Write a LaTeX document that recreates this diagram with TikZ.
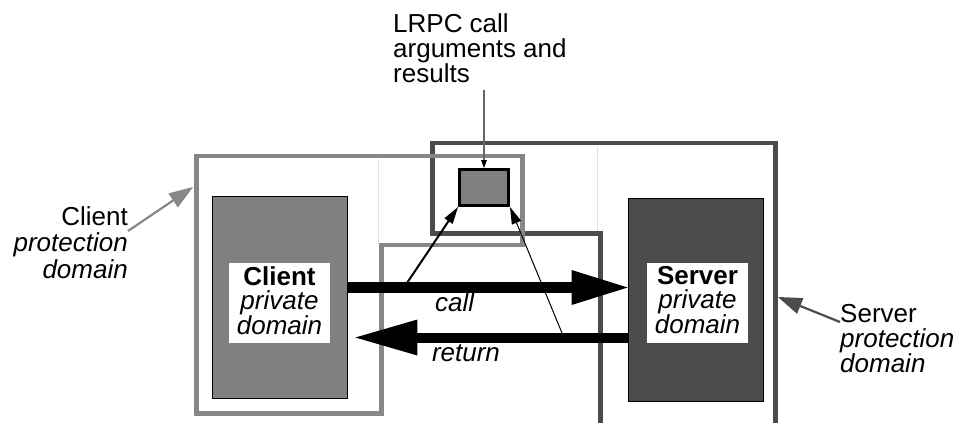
\documentclass[tikz,border=0pt]{standalone}
\usepackage{fontspec}
\setmainfont{Liberation Sans}
\usetikzlibrary{arrows.meta}

\definecolor{clientgray}{gray}{0.53}
\definecolor{servergray}{gray}{0.30}

\begin{document}
\begin{tikzpicture}[x=1pt, y=-1pt, font=\fontsize{26}{25}\selectfont,
    dombox/.style={draw=black, line width=0.8pt, minimum width=135pt, minimum height=202pt},
    domlabel/.style={fill=white, inner sep=0pt, minimum width=101pt, minimum height=80pt, align=center, font=\fontsize{26}{24.5}\selectfont},
    bigarrow/.style={line width=11pt, -{Triangle[length=56pt,width=35pt,line width=0pt]}},
    ptrarrow/.style={-{Triangle[length=17pt,width=10pt,line width=0pt]}},
    protarrow/.style={line width=2.2pt, -{Triangle[length=24pt,width=17pt,line width=0pt]}},
    faint/.style={draw=black!12, line width=0.8pt}]

  \useasboundingbox (0,0) rectangle (959,423);

  % protection domains
  \draw[servergray, line width=4.6pt] (600.5,430) -- (600.5,233.5) -- (432.5,233.5) -- (432.5,143) -- (775.5,143) -- (775.5,430);
  \draw[faint] (597.5,146) -- (597.5,231);
  \draw[clientgray, line width=4.6pt] (196.7,156) -- (522.5,156) -- (522.5,245) -- (381.5,245) -- (381.5,413.7) -- (196.7,413.7) -- cycle;
  \draw[faint] (378,159) -- (378,243);

  \node[dombox, fill=black!50] (cpriv) at (279.5,297) {};
  \node[dombox, fill=servergray, minimum height=203pt] (spriv) at (695.5,299.5) {};
  \node[domlabel] (clbl) at (279.5,303) {\textbf{Client}\\\textit{private}\\\textit{domain}\vphantom{p}};
  \node[domlabel] (slbl) at (697.5,302.5) {\textbf{Server}\\\textit{private}\\\textit{domain}\vphantom{p}};

  \node[draw=black, line width=3pt, fill=black!50, minimum width=49pt, minimum height=36pt, inner sep=0pt] (lrpc) at (484,187.5) {};

  \node[anchor=north west, inner sep=0pt, align=left] (lrpclbl) at (393,13.5) {LRPC call\\arguments and\\results};
  \node[anchor=north east, inner sep=0pt, align=right, font=\fontsize{26}{26.5}\selectfont] (cprotlbl) at (128,206) {Client\\\textit{protection}\\\textit{domain}};
  \node[anchor=north west, inner sep=0pt, align=left] (sprotlbl) at (840,304) {Server\\\textit{protection}\\\textit{domain}};

  \coordinate (cprot) at (193,187);
  \coordinate (sprot) at (778,297);
  \draw[protarrow, clientgray] ([yshift=-25pt]cprotlbl.north east) -- (cprot);
  \draw[protarrow, servergray] ([yshift=-18pt]sprotlbl.north west) -- (sprot);

  % pointers into the argument block
  \coordinate (callpt) at (407,283);
  \coordinate (retpt) at (562,333);
  \coordinate (lrpctop) at (lrpc.north |- lrpclbl.south);
  \draw[ptrarrow, line width=2pt] (callpt) -- (lrpc.south west);
  \draw[ptrarrow, line width=1pt] (retpt) -- (lrpc.south east);
  \draw[black!60, line width=1.3pt, -{Triangle[length=8pt,width=6pt,line width=0pt,color=black]}] ([yshift=-7pt]lrpctop) -- (lrpc.north);

  % call and return
  \coordinate (cally) at ([yshift=9.5pt]cpriv.east);
  \coordinate (rety) at ([yshift=-38pt]spriv.west);
  \draw[bigarrow] (cally) -- (cally -| spriv.west);
  \draw[line width=10pt, shorten >=8pt, -{Triangle[length=62pt,width=36pt,line width=0pt]}] (rety) -- (rety -| cpriv.east);
  \node[anchor=base] (calllbl) at (455,311) {\textit{call}};
  \node[anchor=base] (retlbl) at (466,361) {\textit{return}};
  %\node (extra) at (480,400) {};
\end{tikzpicture}
\end{document}
